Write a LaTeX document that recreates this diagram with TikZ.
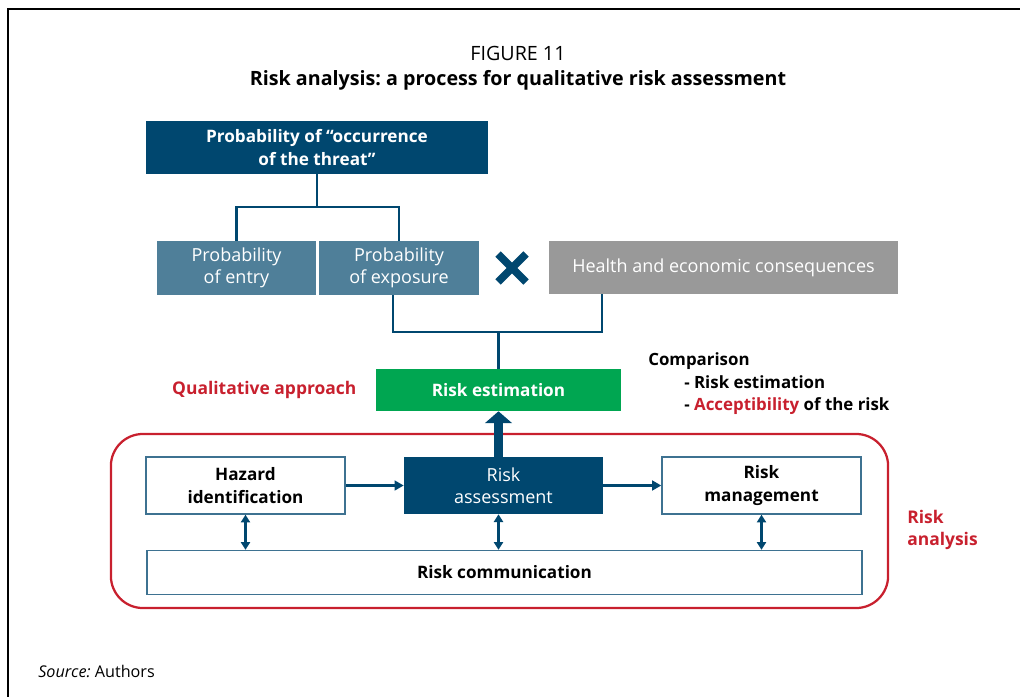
\documentclass[tikz,border=0pt]{standalone}
\usepackage{fontspec}
\setmainfont{Open Sans}
\usepackage{tikz}
\usetikzlibrary{arrows.meta}
\usetikzlibrary{positioning}
\frenchspacing

\definecolor{faoblue}{RGB}{0,71,111}
\definecolor{steelblue}{RGB}{79,127,153}
\definecolor{framegray}{RGB}{153,153,153}
\definecolor{faogreen}{RGB}{0,166,81}
\definecolor{faored}{RGB}{200,32,46}
\definecolor{lineblue}{RGB}{62,114,145}

\begin{document}
\begin{tikzpicture}[line join=miter,x=0.025cm,y=-0.025cm]
  \tikzset{
  % filled boxes
  box/.style={rectangle, inner sep=0pt, align=center, text=white,
    font=\fontsize{12.8}{16}\selectfont},
  darkbox/.style={box, fill=faoblue},
  lightbox/.style={box, fill=steelblue},
  graybox/.style={box, fill=framegray},
  greenbox/.style={box, fill=faogreen, font=\fontsize{12.2}{16}\selectfont\bfseries},
  % white boxes with a blue border
  openbox/.style={box, draw=lineblue, line width=1pt, fill=white, text=black,
    font=\fontsize{12.2}{16}\selectfont\bfseries},
  link/.style={draw=faoblue, line width=1.5pt},
  onearrow/.style={link, -{Triangle[length=6.5pt,width=7pt]}},
  twoarrow/.style={link, {Triangle[length=5.5pt,width=6.5pt]}-{Triangle[length=5.5pt,width=6.5pt]}},
  fatarrow/.style={draw=faoblue, line width=5.7pt, -{Triangle[length=8.5pt,width=19pt]}},
  redtext/.style={inner sep=0pt, text=faored, align=left,
    font=\fontsize{12.4}{16}\selectfont\bfseries},
}

\useasboundingbox (0,0) rectangle (1020,697);
\draw[line width=1.2pt] (8,697) -- (8,9) -- (1020,9);

\node[inner sep=0pt, align=center, font=\fontsize{14}{18}\selectfont] (title) at (518,68)
  {FIGURE 11\\\textbf{Risk analysis: a process for qualitative risk assessment}};

% upper part
\node[darkbox, font=\fontsize{12.2}{16}\selectfont\bfseries, minimum width=8.55cm, minimum height=1.325cm] (threat) at (317,147.5) {Probability of “occurrence\\of the threat”};
\node[lightbox, minimum width=3.975cm, minimum height=1.35cm] (entry) at (236.5,268) {Probability\\of entry};
\node[lightbox, minimum width=4cm, minimum height=1.35cm] (exposure) at (399,268) {Probability\\of exposure};
\node[graybox, minimum width=8.725cm, minimum height=1.325cm] (health) at (723.5,267.5) {Health and economic consequences};
\draw[faoblue, line width=5.3pt] (498,254) -- (526,282) (498,282) -- (526,254);

\node[greenbox, minimum width=6.125cm, minimum height=1.05cm] (estimation) at (498.5,390) {Risk estimation};
\node[redtext, left=0.475cm of estimation] (approach) {Qualitative approach};
\node[inner sep=0pt, anchor=north west, align=left, font=\fontsize{12}{16.3}\selectfont\bfseries] (comparison) at (648,352)
  {Comparison\\\hspace{0.9cm}- Risk estimation\\\hspace{0.9cm}- \textcolor{faored}{Acceptibility} of the risk};

\draw[link] (threat.south) -- ++(0,33);
\draw[link] (entry.north) -- ++(0,-34) -| (exposure.north);
\draw[link] ([xshift=-0.15cm]exposure.south) -- ++(0,37) -| ([xshift=1.325cm]health.south west);
\draw[link] (estimation.north) -- ++(0,-37);

% risk analysis block
\node[draw=faored, line width=1.6pt, rounded corners=0.8cm, minimum width=19.425cm, minimum height=4.35cm] (riskframe) at (499.5,521) {};
\node[redtext, anchor=west] (analysis) at (907,530) {Risk\\analysis};

\node[openbox, minimum width=4.975cm, minimum height=1.425cm] (hazard) at (245.5,485.5) {Hazard\\identification};
\node[darkbox, minimum width=4.975cm, minimum height=1.425cm] (assessment) at (503.5,485.5) {Risk\\assessment};
\node[openbox, minimum width=4.975cm, minimum height=1.425cm] (management) at (761.5,485.5) {Risk\\management};
\node[openbox, minimum width=17.875cm, minimum height=1.1cm] (communication) at (504.5,572.5) {Risk communication};

\draw[onearrow] (hazard) -- (assessment);
\draw[onearrow] (assessment) -- (management);
\draw[fatarrow] (estimation.south |- assessment.north) -- (estimation.south);
\draw[twoarrow] (hazard.south) -- (hazard.south |- communication.north);
\draw[twoarrow] (estimation.south |- assessment.south) -- (estimation.south |- communication.north);
\draw[twoarrow] (management.south) -- (management.south |- communication.north);

\node[inner sep=0pt, anchor=west, font=\fontsize{11.5}{14}\selectfont] (source) at (38,671) {\textit{Source:} Authors};
\end{tikzpicture}
\end{document}
